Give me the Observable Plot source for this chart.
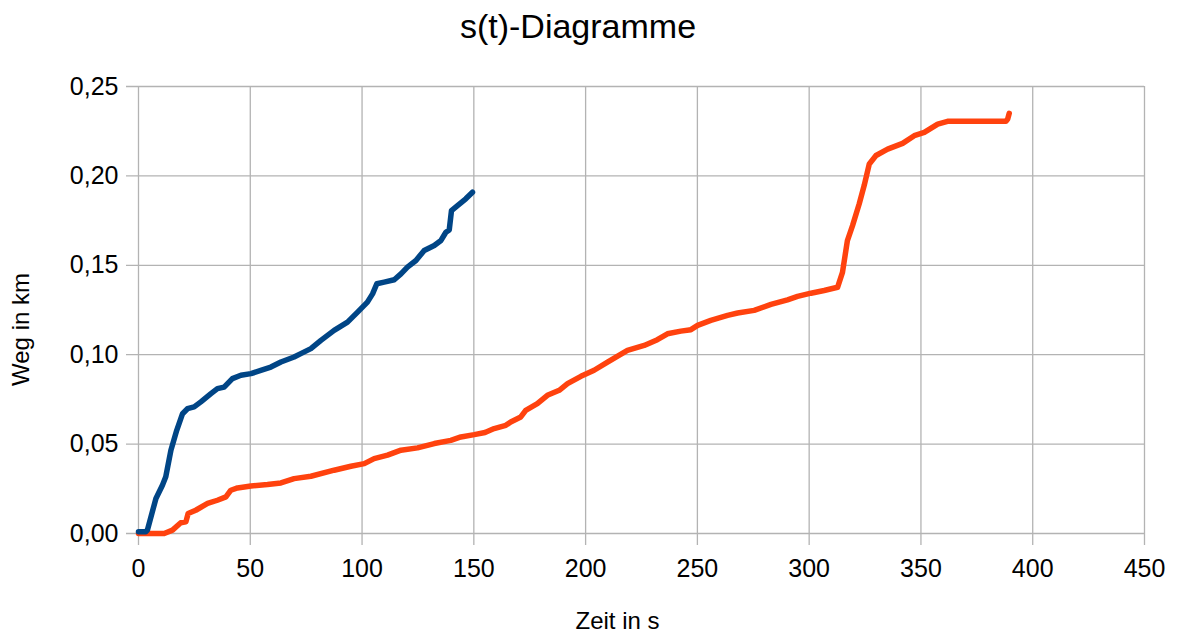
<!DOCTYPE html>
<html>
<head>
<meta charset="utf-8">
<script src="https://cdn.jsdelivr.net/npm/d3@7"></script>
<script src="https://cdn.jsdelivr.net/npm/@observablehq/plot@0.6"></script>
<style>
  html, body { margin: 0; padding: 0; background: #fff; }
  #chart svg { display: block; }
</style>
</head>
<body>
<div id="chart"></div>
<script>
// Title and axis labels
const title = "s(t)-Diagramme";
const xLabel = "Zeit in s";
const yLabel = "Weg in km";

// Tick values and labels
const xTicks = [0, 50, 100, 150, 200, 250, 300, 350, 400, 450];
const xTickLabels = ["0", "50", "100", "150", "200", "250", "300", "350", "400", "450"];
const yTicks = [0, 0.05, 0.1, 0.15, 0.2, 0.25];
const yTickLabels = ["0,00", "0,05", "0,10", "0,15", "0,20", "0,25"];

// Series 1 (blue)
const blueT = [0, 3.3, 4, 7.8, 10.7, 12.2, 14.5, 17.1, 19.7, 21.9, 24.9, 27.9, 32.4, 35.3, 38.3, 42, 45.8, 50.3, 54.7, 59.2, 63.7, 69.6, 72.6, 77.1, 81.6, 87.5, 93.5, 98, 102.4, 104.7, 106.6, 109.9, 114.4, 117.4, 120.3, 124.1, 127.8, 132.3, 135.3, 137.5, 139, 140, 142.7, 146.4, 149.4];
const blueS = [0.001, 0.001, 0.002, 0.0196, 0.027, 0.0317, 0.0466, 0.0577, 0.067, 0.0698, 0.0708, 0.0736, 0.0782, 0.081, 0.0819, 0.0866, 0.0885, 0.0894, 0.0912, 0.0931, 0.0959, 0.0987, 0.1006, 0.1034, 0.108, 0.1136, 0.1182, 0.1238, 0.1294, 0.134, 0.1397, 0.1406, 0.1419, 0.1452, 0.149, 0.1527, 0.1583, 0.1611, 0.1639, 0.1685, 0.1698, 0.1806, 0.1834, 0.1872, 0.1909];

// Series 2 (orange)
const orangeT = [0, 11.5, 15.2, 18.9, 21.2, 22.2, 25.6, 30.9, 35.3, 39.1, 41.3, 44.3, 50.3, 57.7, 63.7, 69.6, 77.1, 87.5, 95, 101, 105.4, 111.4, 117.4, 124.8, 132.3, 139.7, 144.2, 150.2, 155, 159.1, 164.3, 166.5, 171, 173.2, 178.4, 182.9, 188.2, 191.9, 197.9, 203.8, 209.8, 218.7, 226.2, 232.1, 236.6, 242.6, 247.1, 250.1, 256, 263.5, 268, 275.4, 282.9, 290.3, 294.8, 300.8, 306.7, 312.7, 314.9, 317.1, 319.4, 322.4, 324.6, 326.9, 329.9, 335.1, 341.8, 347, 351.5, 357.5, 361.9, 369.4, 388, 388.8, 389.5];
const orangeS = [0, 0, 0.0019, 0.006, 0.0065, 0.0112, 0.013, 0.0168, 0.0186, 0.0205, 0.0242, 0.0255, 0.0266, 0.0274, 0.0283, 0.0307, 0.032, 0.0354, 0.0376, 0.0391, 0.0419, 0.0438, 0.0466, 0.0479, 0.0503, 0.0521, 0.054, 0.0553, 0.0565, 0.0587, 0.0605, 0.0624, 0.0652, 0.0689, 0.0726, 0.0773, 0.0801, 0.0838, 0.0879, 0.0913, 0.0959, 0.1024, 0.1052, 0.1084, 0.1117, 0.1132, 0.114, 0.1164, 0.1192, 0.122, 0.1233, 0.1248, 0.1281, 0.1307, 0.1326, 0.1344, 0.1359, 0.1377, 0.146, 0.1638, 0.1722, 0.1844, 0.1946, 0.2067, 0.2114, 0.215, 0.2182, 0.2225, 0.2243, 0.229, 0.2305, 0.2305, 0.2305, 0.2318, 0.235];

const blue = blueT.map((t, i) => ({t, s: blueS[i]}));
const orange = orangeT.map((t, i) => ({t, s: orangeS[i]}));

const gridColor = "#b3b3b3";
const font = "'Liberation Sans', Arial, sans-serif";

const chart = Plot.plot({
  width: 1179,
  height: 633,
  marginLeft: 138,
  marginRight: 35,
  marginTop: 86,
  marginBottom: 100,
  style: { fontFamily: font, background: "#fff", color: "#000" },
  x: { domain: [0, 450] },
  y: { domain: [0, 0.25] },
  marks: [
    Plot.gridX(xTicks, { stroke: gridColor, strokeOpacity: 1, strokeWidth: 1.3, insetBottom: -12 }),
    Plot.gridY(yTicks, { stroke: gridColor, strokeOpacity: 1, strokeWidth: 1.3, insetLeft: -12 }),
    Plot.axisX(xTicks, { tickSize: 0, tickPadding: 26, fontSize: 25, label: null,
      tickFormat: d => xTickLabels[xTicks.indexOf(d)] }),
    Plot.axisY(yTicks, { tickSize: 0, tickPadding: 20, fontSize: 25, label: null,
      tickFormat: d => yTickLabels[yTicks.indexOf(d)] }),
    Plot.line(orange, { x: "t", y: "s", stroke: "#ff420e", strokeWidth: 5.5, strokeLinecap: "round", strokeLinejoin: "round" }),
    Plot.line(blue, { x: "t", y: "s", stroke: "#004586", strokeWidth: 5.5, strokeLinecap: "round", strokeLinejoin: "round" }),
    Plot.text([title], { frameAnchor: "top-left", dx: 439.5, dy: -59.5, fontSize: 34, textAnchor: "middle", lineAnchor: "middle", fill: "#000" }),
    Plot.text([xLabel], { frameAnchor: "top-left", dx: 617 - 138, dy: 620.6 - 86, fontSize: 24, textAnchor: "middle", lineAnchor: "middle", fill: "#000" }),
    Plot.text([yLabel], { frameAnchor: "top-left", dx: 21.3 - 138, dy: 329 - 86, fontSize: 24, textAnchor: "middle", lineAnchor: "middle", rotate: -90, fill: "#000" })
  ]
});
document.getElementById("chart").appendChild(chart);
</script>
</body>
</html>
